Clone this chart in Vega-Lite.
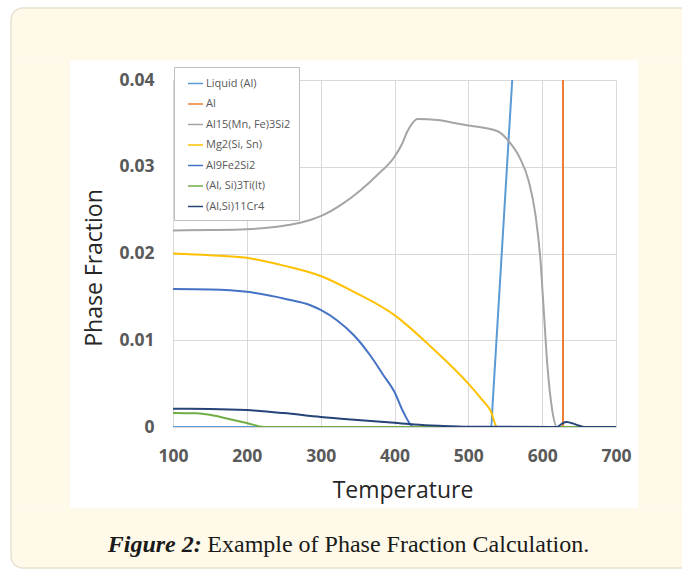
{
  "$schema": "https://vega.github.io/schema/vega-lite/v6.json",
  "width": 443,
  "height": 347,
  "autosize": "none",
  "padding": {"left": 173, "top": 80, "right": 66, "bottom": 144},
  "background": "white",
  "config": {"view": {"stroke": null}, "font": "Open Sans"},
  "datasets": {
    "one": [{}],
    "phases": [
      {"phase": "Liquid (Al)", "T": 100, "f": 0},
      {"phase": "Liquid (Al)", "T": 531, "f": 0},
      {"phase": "Liquid (Al)", "T": 533, "f": 0.0028},
      {"phase": "Liquid (Al)", "T": 563, "f": 0.045},
      {"phase": "Al", "T": 628.2, "f": 0},
      {"phase": "Al", "T": 628.3, "f": 0.95},
      {"phase": "Al15(Mn, Fe)3Si2", "T": 100, "f": 0.02266},
      {"phase": "Al15(Mn, Fe)3Si2", "T": 150, "f": 0.0227},
      {"phase": "Al15(Mn, Fe)3Si2", "T": 200, "f": 0.0228},
      {"phase": "Al15(Mn, Fe)3Si2", "T": 250, "f": 0.0232},
      {"phase": "Al15(Mn, Fe)3Si2", "T": 275, "f": 0.0236},
      {"phase": "Al15(Mn, Fe)3Si2", "T": 300, "f": 0.0243},
      {"phase": "Al15(Mn, Fe)3Si2", "T": 331, "f": 0.0258},
      {"phase": "Al15(Mn, Fe)3Si2", "T": 354, "f": 0.0273},
      {"phase": "Al15(Mn, Fe)3Si2", "T": 376, "f": 0.029},
      {"phase": "Al15(Mn, Fe)3Si2", "T": 400, "f": 0.03115},
      {"phase": "Al15(Mn, Fe)3Si2", "T": 410, "f": 0.0326},
      {"phase": "Al15(Mn, Fe)3Si2", "T": 417, "f": 0.034},
      {"phase": "Al15(Mn, Fe)3Si2", "T": 424, "f": 0.035},
      {"phase": "Al15(Mn, Fe)3Si2", "T": 431, "f": 0.0355},
      {"phase": "Al15(Mn, Fe)3Si2", "T": 458, "f": 0.03539},
      {"phase": "Al15(Mn, Fe)3Si2", "T": 490, "f": 0.0349},
      {"phase": "Al15(Mn, Fe)3Si2", "T": 503, "f": 0.03473},
      {"phase": "Al15(Mn, Fe)3Si2", "T": 539, "f": 0.03412},
      {"phase": "Al15(Mn, Fe)3Si2", "T": 557, "f": 0.0327},
      {"phase": "Al15(Mn, Fe)3Si2", "T": 570, "f": 0.03097},
      {"phase": "Al15(Mn, Fe)3Si2", "T": 582, "f": 0.02827},
      {"phase": "Al15(Mn, Fe)3Si2", "T": 591, "f": 0.02443},
      {"phase": "Al15(Mn, Fe)3Si2", "T": 597.5, "f": 0.01943},
      {"phase": "Al15(Mn, Fe)3Si2", "T": 602, "f": 0.01366},
      {"phase": "Al15(Mn, Fe)3Si2", "T": 607.4, "f": 0.00674},
      {"phase": "Al15(Mn, Fe)3Si2", "T": 613.3, "f": 0.00212},
      {"phase": "Al15(Mn, Fe)3Si2", "T": 620, "f": 0},
      {"phase": "Al15(Mn, Fe)3Si2", "T": 700, "f": 0},
      {"phase": "Mg2(Si, Sn)", "T": 100, "f": 0.02},
      {"phase": "Mg2(Si, Sn)", "T": 150, "f": 0.0198},
      {"phase": "Mg2(Si, Sn)", "T": 200, "f": 0.0195},
      {"phase": "Mg2(Si, Sn)", "T": 250, "f": 0.0186},
      {"phase": "Mg2(Si, Sn)", "T": 300, "f": 0.0174},
      {"phase": "Mg2(Si, Sn)", "T": 345, "f": 0.01558},
      {"phase": "Mg2(Si, Sn)", "T": 400, "f": 0.0129},
      {"phase": "Mg2(Si, Sn)", "T": 450, "f": 0.0092},
      {"phase": "Mg2(Si, Sn)", "T": 500, "f": 0.005},
      {"phase": "Mg2(Si, Sn)", "T": 520, "f": 0.003},
      {"phase": "Mg2(Si, Sn)", "T": 530, "f": 0.0019},
      {"phase": "Mg2(Si, Sn)", "T": 539, "f": 0},
      {"phase": "Mg2(Si, Sn)", "T": 700, "f": 0},
      {"phase": "Al9Fe2Si2", "T": 100, "f": 0.0159},
      {"phase": "Al9Fe2Si2", "T": 150, "f": 0.01585},
      {"phase": "Al9Fe2Si2", "T": 200, "f": 0.01558},
      {"phase": "Al9Fe2Si2", "T": 254, "f": 0.01473},
      {"phase": "Al9Fe2Si2", "T": 286, "f": 0.01404},
      {"phase": "Al9Fe2Si2", "T": 300, "f": 0.0135},
      {"phase": "Al9Fe2Si2", "T": 322, "f": 0.01231},
      {"phase": "Al9Fe2Si2", "T": 345, "f": 0.01058},
      {"phase": "Al9Fe2Si2", "T": 367, "f": 0.00827},
      {"phase": "Al9Fe2Si2", "T": 385, "f": 0.00597},
      {"phase": "Al9Fe2Si2", "T": 400, "f": 0.00404},
      {"phase": "Al9Fe2Si2", "T": 412, "f": 0.00173},
      {"phase": "Al9Fe2Si2", "T": 426, "f": 0},
      {"phase": "Al9Fe2Si2", "T": 700, "f": 0},
      {"phase": "(Al, Si)3Ti(lt)", "T": 100, "f": 0.00162},
      {"phase": "(Al, Si)3Ti(lt)", "T": 132, "f": 0.00158},
      {"phase": "(Al, Si)3Ti(lt)", "T": 150, "f": 0.0014},
      {"phase": "(Al, Si)3Ti(lt)", "T": 173, "f": 0.00097},
      {"phase": "(Al, Si)3Ti(lt)", "T": 200, "f": 0.00046},
      {"phase": "(Al, Si)3Ti(lt)", "T": 223, "f": 0},
      {"phase": "(Al, Si)3Ti(lt)", "T": 700, "f": 0},
      {"phase": "(Al,Si)11Cr4", "T": 100, "f": 0.0021},
      {"phase": "(Al,Si)11Cr4", "T": 150, "f": 0.00208},
      {"phase": "(Al,Si)11Cr4", "T": 200, "f": 0.00195},
      {"phase": "(Al,Si)11Cr4", "T": 250, "f": 0.0016},
      {"phase": "(Al,Si)11Cr4", "T": 300, "f": 0.00115},
      {"phase": "(Al,Si)11Cr4", "T": 350, "f": 0.0008},
      {"phase": "(Al,Si)11Cr4", "T": 400, "f": 0.00048},
      {"phase": "(Al,Si)11Cr4", "T": 427, "f": 0.0003},
      {"phase": "(Al,Si)11Cr4", "T": 460, "f": 0.00015},
      {"phase": "(Al,Si)11Cr4", "T": 500, "f": 0.00003},
      {"phase": "(Al,Si)11Cr4", "T": 620, "f": 0},
      {"phase": "(Al,Si)11Cr4", "T": 627, "f": 0.0004},
      {"phase": "(Al,Si)11Cr4", "T": 633, "f": 0.00058},
      {"phase": "(Al,Si)11Cr4", "T": 645, "f": 0.0003},
      {"phase": "(Al,Si)11Cr4", "T": 657, "f": 0},
      {"phase": "(Al,Si)11Cr4", "T": 700, "f": 0}
    ]
  },
  "layer": [
    {
      "data": {"name": "one"},
      "mark": {"type": "rect", "fill": "#fef9e8", "cornerRadiusTopLeft": 12},
      "encoding": {
        "x": {"datum": -119.4, "type": "quantitative", "scale": {"domain": [100, 700], "nice": false, "zero": false}},
        "x2": {"datum": 840.9},
        "y": {"datum": 0.0483, "type": "quantitative", "scale": {"domain": [0, 0.04], "nice": false, "zero": false}},
        "y2": {"datum": 0.04225}
      }
    },
    {
      "data": {"name": "one"},
      "mark": {"type": "rect", "fill": "#fef9e8", "cornerRadiusBottomLeft": 12},
      "encoding": {
        "x": {"datum": -119.4, "type": "quantitative", "scale": {"domain": [100, 700], "nice": false, "zero": false}},
        "x2": {"datum": 840.9},
        "y": {"datum": -0.009372, "type": "quantitative", "scale": {"domain": [0, 0.04], "nice": false, "zero": false}},
        "y2": {"datum": -0.016254}
      }
    },
    {
      "data": {"name": "one"},
      "mark": {"type": "rect", "fill": "#fef9e8"},
      "encoding": {
        "x": {"datum": -119.4, "type": "quantitative", "scale": {"domain": [100, 700], "nice": false, "zero": false}},
        "x2": {"datum": -39.5},
        "y": {"datum": 0.04226, "type": "quantitative", "scale": {"domain": [0, 0.04], "nice": false, "zero": false}},
        "y2": {"datum": -0.009373}
      }
    },
    {
      "data": {"name": "one"},
      "mark": {"type": "rect", "fill": "#fef9e8"},
      "encoding": {
        "x": {"datum": 730.2, "type": "quantitative", "scale": {"domain": [100, 700], "nice": false, "zero": false}},
        "x2": {"datum": 840.9},
        "y": {"datum": 0.04226, "type": "quantitative", "scale": {"domain": [0, 0.04], "nice": false, "zero": false}},
        "y2": {"datum": -0.009373}
      }
    },
    {
      "data": {"name": "one"},
      "mark": {"type": "rect", "fillOpacity": 0, "stroke": "#e6e1d1", "strokeWidth": 1.5, "cornerRadius": 12},
      "encoding": {
        "x": {"datum": -119.4, "type": "quantitative", "scale": {"domain": [100, 700], "nice": false, "zero": false}},
        "x2": {"datum": 840.9},
        "y": {"datum": 0.0483, "type": "quantitative", "scale": {"domain": [0, 0.04], "nice": false, "zero": false}},
        "y2": {"datum": -0.016254}
      }
    },
    {
      "data": {"name": "phases"},
      "mark": {"type": "line", "strokeWidth": 2, "clip": true, "interpolate": "monotone"},
      "encoding": {
        "x": {
          "field": "T", "type": "quantitative",
          "scale": {"domain": [100, 700], "nice": false, "zero": false},
          "axis": {
            "values": [100, 200, 300, 400, 500, 600, 700],
            "grid": true, "gridColor": "#d9d9d9", "gridWidth": 1,
            "domain": false, "ticks": false, "tickSize": 0,
            "labelFlush": false, "labelOverlap": false,
            "labelFont": "Open Sans", "labelFontWeight": "bold", "labelFontSize": 17.5, "labelColor": "#595959",
            "labelBaseline": "alphabetic", "labelPadding": 34,
            "title": "Temperature", "titleFont": "Open Sans", "titleFontWeight": "normal", "titleFontSize": 23, "titleColor": "#262626",
            "titleX": 229.5, "titleY": 70, "titleBaseline": "alphabetic", "titleAlign": "center"
          }
        },
        "y": {
          "field": "f", "type": "quantitative",
          "scale": {"domain": [0, 0.04], "nice": false, "zero": false},
          "axis": {
            "values": [0, 0.01, 0.02, 0.03, 0.04],
            "labelExpr": "datum.value === 0 ? '0' : format(datum.value, '.2f')",
            "grid": true, "gridColor": "#d9d9d9", "gridWidth": 1,
            "domain": false, "ticks": false, "tickSize": 0,
            "labelFlush": false, "labelOverlap": false,
            "labelFont": "Open Sans", "labelFontWeight": "bold", "labelFontSize": 17.5, "labelColor": "#595959",
            "labelBaseline": "middle", "labelPadding": 19,
            "title": "Phase Fraction", "titleFont": "Open Sans", "titleFontWeight": "normal", "titleFontSize": 23, "titleColor": "#262626",
            "titleAngle": -90, "titleX": -72, "titleY": 187.5, "titleBaseline": "alphabetic", "titleAlign": "center"
          }
        },
        "color": {
          "field": "phase", "type": "nominal",
          "scale": {
            "domain": ["Liquid (Al)", "Al", "Al15(Mn, Fe)3Si2", "Mg2(Si, Sn)", "Al9Fe2Si2", "(Al, Si)3Ti(lt)", "(Al,Si)11Cr4"],
            "range": ["#5b9bd5", "#ed7d31", "#a5a5a5", "#ffc000", "#4472c4", "#70ad47", "#264478"]
          },
          "legend": {
            "orient": "none", "legendX": 1, "legendY": -13, "title": null,
            "padding": 8, "rowPadding": 6.5,
            "fillColor": "white", "strokeColor": "#bfbfbf",
            "labelFont": "Open Sans", "labelFontSize": 11, "labelColor": "#595959", "labelOffset": 2,
            "symbolType": "stroke", "symbolSize": 225, "symbolStrokeWidth": 1.5, "symbolOffset": 5
          }
        }
      }
    },
    {
      "data": {"name": "one"},
      "mark": {"type": "text", "text": "Figure 2:", "font": "Liberation Serif", "fontSize": 24, "fontWeight": "bold", "fontStyle": "italic", "align": "right", "baseline": "alphabetic", "color": "#1a1a1a"},
      "encoding": {
        "x": {"datum": 138.9, "type": "quantitative", "scale": {"domain": [100, 700], "nice": false, "zero": false}},
        "y": {"datum": -0.014375, "type": "quantitative", "scale": {"domain": [0, 0.04], "nice": false, "zero": false}}
      }
    },
    {
      "data": {"name": "one"},
      "mark": {"type": "text", "text": "Example of Phase Fraction Calculation.", "font": "Liberation Serif", "fontSize": 24, "align": "left", "baseline": "alphabetic", "dx": 5.6, "color": "#1a1a1a"},
      "encoding": {
        "x": {"datum": 138.9, "type": "quantitative", "scale": {"domain": [100, 700], "nice": false, "zero": false}},
        "y": {"datum": -0.014375, "type": "quantitative", "scale": {"domain": [0, 0.04], "nice": false, "zero": false}}
      }
    }
  ]
}
